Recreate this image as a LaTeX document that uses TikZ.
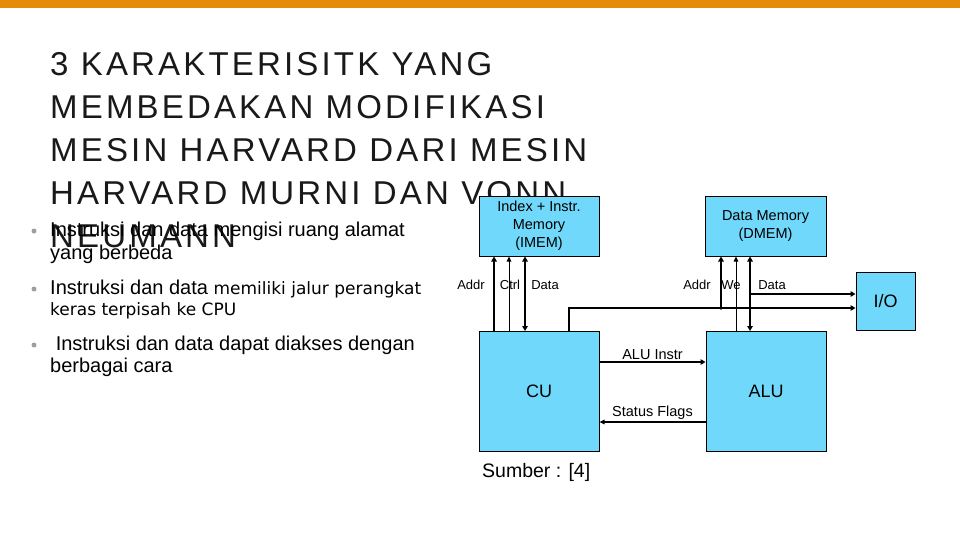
\documentclass[tikz,border=0pt]{standalone}
\usepackage{fontspec}
\setmainfont{Liberation Sans}
\newfontfamily\titlefont[LetterSpace=9.6]{Liberation Sans}
\newfontfamily\altfont{DejaVu Sans}
\usetikzlibrary{arrows.meta}
\definecolor{barorange}{RGB}{230,138,10}
\definecolor{boxcyan}{RGB}{112,216,250}
\definecolor{titlegray}{RGB}{25,25,25}
\begin{document}
\begin{tikzpicture}[x=1pt,y=-1pt,
  blk/.style={draw=black,line width=1pt,fill=boxcyan,inner sep=0pt,font=\fontsize{14.5}{18}\selectfont,align=center},
  big/.style={font=\fontsize{18}{21}\selectfont},
  lbl/.style={font=\fontsize{13}{15}\selectfont,inner sep=1pt},
  lblb/.style={font=\fontsize{14.5}{16}\selectfont,inner sep=1pt},
  bus/.style={line width=1.5pt,-{Triangle[length=5pt,width=5.5pt]}},
  bus2/.style={line width=1.5pt,{Triangle[length=5pt,width=5.5pt]}-{Triangle[length=5pt,width=5.5pt]}},
  thin/.style={line width=0.9pt,-{Triangle[length=5pt,width=4.5pt]}},
  ttl/.style={anchor=west,inner sep=0pt,text=titlegray,font=\titlefont\fontsize{33}{38}\selectfont},
  bul/.style={anchor=west,inner sep=0pt,font=\fontsize{20}{24}\selectfont},
  dot/.style={circle,fill=gray!75,inner sep=0pt,minimum size=5pt}
]
\useasboundingbox (0,0) rectangle (960,540);
\fill[white] (0,0) rectangle (960,540);
\fill[barorange] (0,0) rectangle (960,8);
% title
\node[ttl] (t1) at (50,64) {3 KARAKTERISITK YANG};
\node[ttl] (t2) at (50,107) {MEMBEDAKAN MODIFIKASI};
\node[ttl] (t3) at (50,150) {MESIN HARVARD DARI MESIN};
\node[ttl] (t4) at (50,193) {HARVARD MURNI DAN VONN};
\node[ttl] (t5) at (50,236) {NEUMANN};
% bullets
\node[dot] (d1) at (34,231) {};
\node[bul] (b1a) at (50,231) {Instruksi dan data mengisi ruang alamat};
\node[bul] (b1b) at (50,254) {yang berbeda};
\node[dot] (d2) at (34,289) {};
\node[bul] (b2a) at (50,289) {Instruksi dan data {\altfont\fontsize{17}{20}\selectfont memiliki jalur perangkat}};
\node[bul,font=\altfont\fontsize{17}{20}\selectfont] (b2b) at (50,311) {keras terpisah ke CPU};
\node[dot] (d3) at (34,345) {};
\node[bul] (b3a) at (50,345) {\ Instruksi dan data dapat diakses dengan};
\node[bul] (b3b) at (50,367) {berbagai cara};
% diagram boxes
\node[blk,minimum width=120pt,minimum height=60pt] (imem) at (539,226) {Index + Instr.\\Memory\\(IMEM)};
\node[blk,minimum width=121pt,minimum height=60pt] (dmem) at (765.5,226) {Data Memory\\(DMEM)};
\node[blk,big,minimum width=59pt,minimum height=58pt] (io) at (885.5,301) {I/O};
\node[blk,big,minimum width=120pt,minimum height=120pt] (cu) at (539,391.5) {CU};
\node[blk,big,minimum width=120pt,minimum height=120pt] (alu) at (766,391.5) {ALU};
% IMEM buses
\draw[bus] (cu.north -| 494,0) -- (imem.south -| 494,0);
\draw[thin] (cu.north -| 509,0) -- (imem.south -| 509,0);
\draw[bus2] (cu.north -| 525,0) -- (imem.south -| 525,0);
\node[lbl] (la1) at (471,285) {Addr};
\node[lbl] (la2) at (510,285) {Ctrl};
\node[lbl] (la3) at (545,285) {Data};
% address bus from CU to DMEM and I/O
\coordinate (j0) at (569,308);
\coordinate (j1) at (721,308);
\draw[line width=1.5pt] (cu.north -| j0) -- (j0) -- (j1);
\draw[bus] (j1) -- (io.west |- j1);
\fill (j1) circle (1.8pt);
\draw[bus] (j1) -- (dmem.south -| j1);
\draw[thin] (alu.north -| 736,0) -- (dmem.south -| 736,0);
\draw[bus2] (alu.north -| 750,0) -- (dmem.south -| 750,0);
\coordinate (j2) at (750,294);
\draw[bus] (j2) -- (io.west |- j2);
\node[lbl] (lb1) at (697,285) {Addr};
\node[lbl] (lb2) at (731,285) {We};
\node[lbl] (lb3) at (772,285) {Data};
% CU <-> ALU
\draw[bus] (cu.east |- 0,362) -- (alu.west |- 0,362) node[lblb,midway,above=1pt] (li) {ALU Instr};
\draw[thin,line width=1.3pt] (alu.west |- 0,422) -- (cu.east |- 0,422) node[lblb,midway,above=1pt] (ls) {Status Flags};
% source
\node[anchor=west,inner sep=0pt,font=\fontsize{19.5}{23}\selectfont] (src) at (482,472) {Sumber : [4]};
\end{tikzpicture}
\end{document}
